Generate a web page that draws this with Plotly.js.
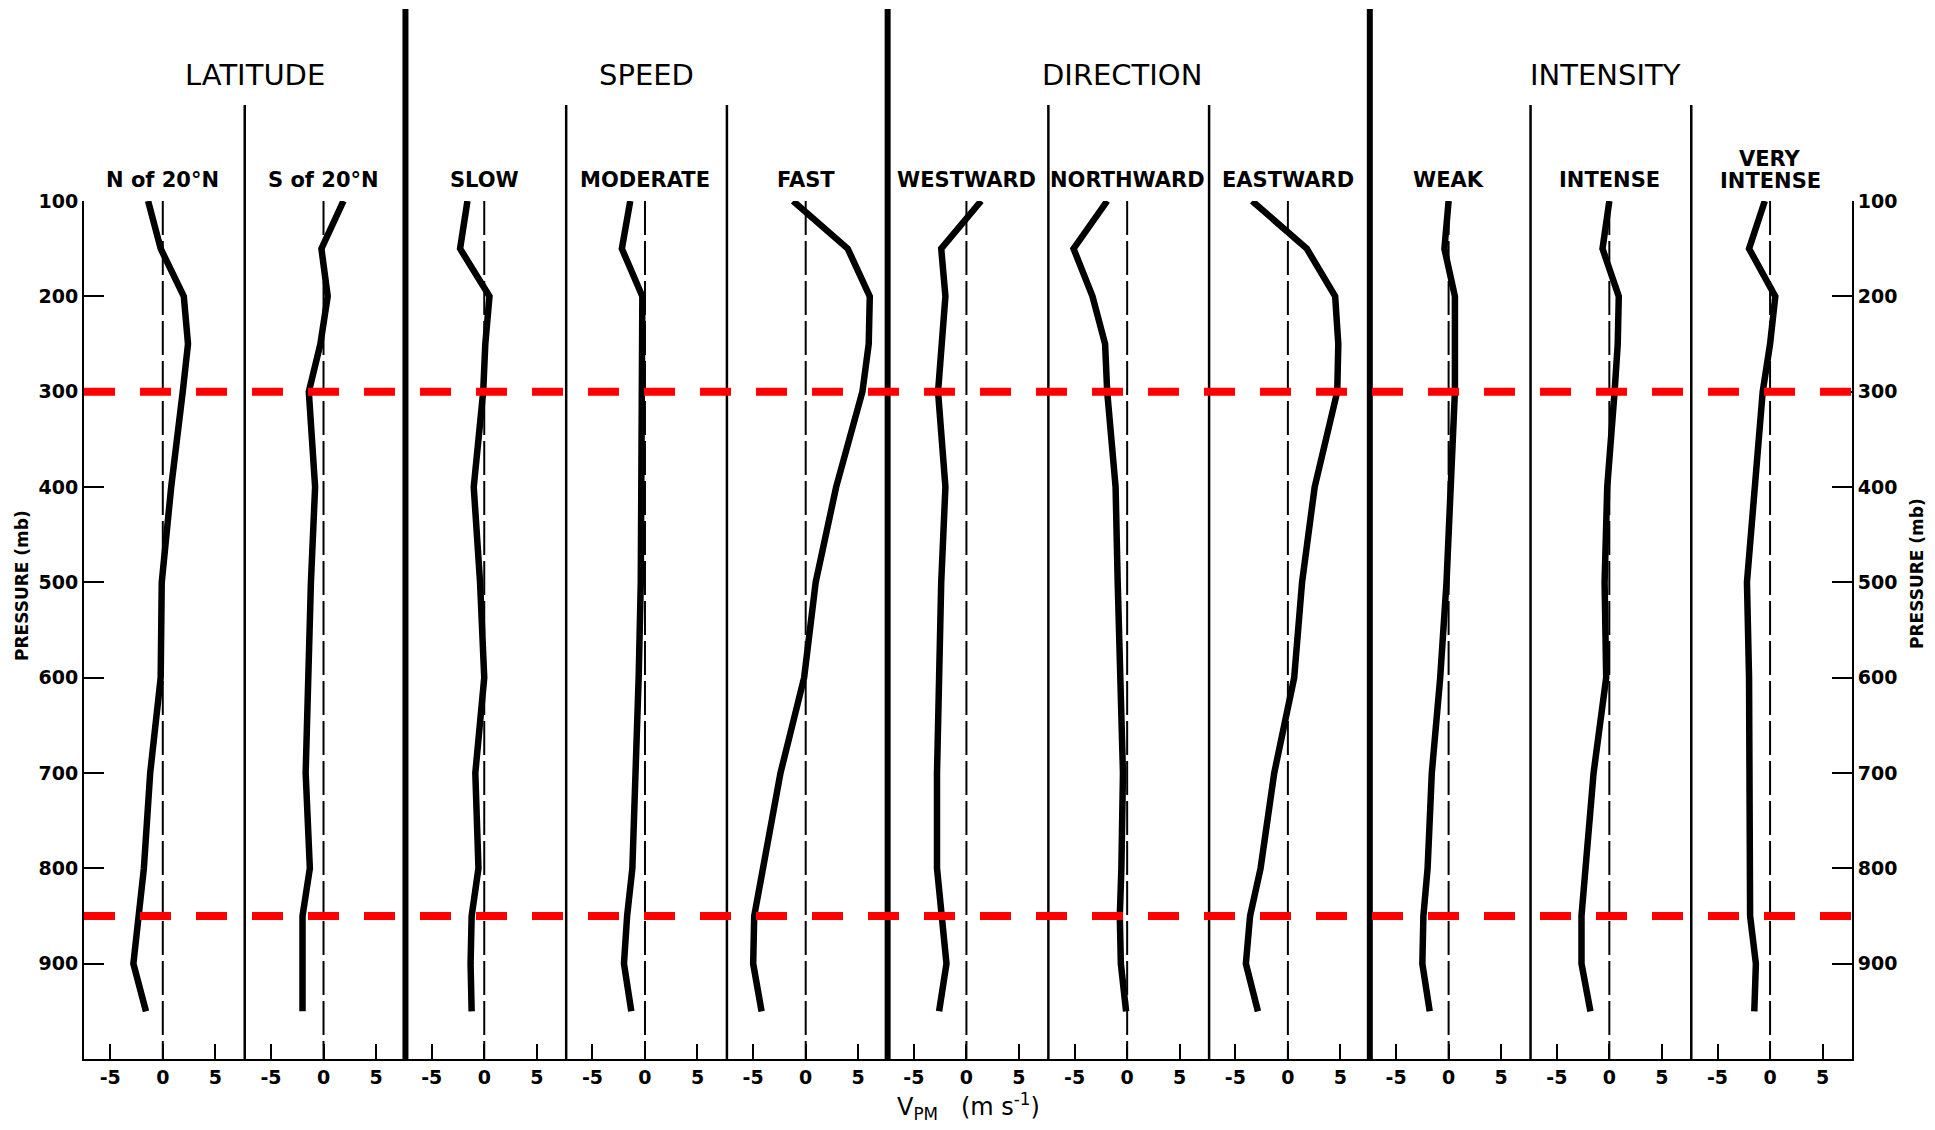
<!DOCTYPE html>
<html><head><meta charset="utf-8">
<script src="https://cdn.plot.ly/plotly-3.0.1.min.js"></script>
<style>html,body{margin:0;padding:0;background:#fff}</style>
</head><body>
<div id="chart" style="width:1935px;height:1130px"></div>
<script>
// ---- data ----
const pressure = [100,150,200,250,300,400,500,600,700,800,850,900,950];
const pressureTicks = [100,200,300,400,500,600,700,800,900];
const vTicks = [-5,0,5];

const latN        = [-1.4,-0.2, 2.0, 2.4, 1.9, 0.8,-0.1,-0.2,-1.2,-1.8,-2.3,-2.8,-1.6];
const latS        = [ 1.9,-0.2, 0.4,-0.3,-1.4,-0.8,-1.2,-1.4,-1.7,-1.3,-2.0,-2.0,-2.0];
const slow        = [-1.6,-2.3, 0.5, 0.1,-0.1,-1.0,-0.4, 0.0,-0.85,-0.55,-1.2,-1.3,-1.2];
const moderate    = [-1.4,-2.2,-0.25,-0.25,-0.25,-0.3,-0.4,-0.6,-0.9,-1.2,-1.7,-2.0,-1.3];
const fast        = [-1.2, 4.0, 6.1, 6.0, 5.4, 2.9, 0.95,-0.15,-2.4,-4.1,-4.9,-5.0,-4.2];
const westward    = [ 1.4,-2.4,-2.0,-2.4,-2.7,-2.0,-2.4,-2.6,-2.8,-2.8,-2.4,-1.9,-2.6];
const northward   = [-1.9,-5.1,-3.3,-2.1,-1.9,-1.1,-0.9,-0.6,-0.4,-0.55,-0.7,-0.6,-0.1];
const eastward    = [-3.4, 1.8, 4.5, 4.8, 4.7, 2.55, 1.35, 0.6,-1.3,-2.6,-3.6,-4.0,-2.85];
const weak        = [ 0.0,-0.4, 0.6, 0.6, 0.6, 0.2,-0.2,-0.8,-1.6,-2.0,-2.4,-2.5,-1.8];
const intense     = [ 0.0,-0.65,0.9, 0.8, 0.5,-0.2,-0.45,-0.3,-1.5,-2.2,-2.65,-2.65,-1.8];
const veryIntense = [-0.5,-2.0, 0.5, 0.0,-0.7,-1.5,-2.2,-2.0,-2.0,-1.9,-1.9,-1.35,-1.5];

const panelLabels = ["N of 20°N","S of 20°N","SLOW","MODERATE","FAST","WESTWARD","NORTHWARD","EASTWARD","WEAK","INTENSE","VERY|INTENSE"];
const panelSeries = [latN,latS,slow,moderate,fast,westward,northward,eastward,weak,intense,veryIntense];
const groupLabels = ["LATITUDE","SPEED","DIRECTION","INTENSITY"];
const refLevels = [300,850];

// ---- layout config ----
const thickAfter = [2, 5, 8];               // panel boundaries drawn heavy
const groupTitlePix = [255, 646, 1122, 1605]; // title centres (px)

const N = panelSeries.length;
const W = 1935, H = 1130;
const M = {l:84, r:83, t:201, b:71};
const plotH = H - M.t - M.b;
const py = yPix => (H - M.b - yPix) / plotH;       // pixel row -> paper y
const px = xPix => (xPix - M.l) / (W - M.l - M.r); // pixel col -> paper x
const FONT = "DejaVu Sans";

const traces = [];
const layout = {
  width: W, height: H, margin: M,
  paper_bgcolor: "#fff", plot_bgcolor: "#fff",
  showlegend: false, hovermode: false,
  font: {family: FONT, color: "#000"},
  shapes: [], annotations: []
};

function label(ax, y, text) {
  layout.annotations.push({
    xref: ax, yref: "paper", x: 0, y: py(y), text: text,
    showarrow: false, xanchor: "center", yanchor: "middle",
    font: {family: FONT, size: 21, color: "#000", weight: "bold"}
  });
}

for (let i = 0; i < N; i++) {
  const ax = i === 0 ? "x" : "x" + (i + 1);
  const axKey = i === 0 ? "xaxis" : "xaxis" + (i + 1);
  layout[axKey] = {
    domain: [i / N, (i + 1) / N], range: [-7.5, 7.8], anchor: "y",
    showline: true, linecolor: "#000", linewidth: 2,
    ticks: "inside", ticklen: 15, tickwidth: 2, tickcolor: "#000",
    tickvals: vTicks, ticktext: vTicks.map(v => v < 0 ? "-" + Math.abs(v) : String(v)),
    tickfont: {family: FONT, size: 19, color: "#000", weight: "bold"},
    showgrid: false, zeroline: false, fixedrange: true
  };
  traces.push({
    x: panelSeries[i], y: pressure, xaxis: ax, yaxis: "y",
    type: "scatter", mode: "lines",
    line: {color: "#000", width: 6.5}, hoverinfo: "skip"
  });
  // dashed zero line
  layout.shapes.push({
    type: "line", xref: ax, yref: "y", x0: 0, x1: 0, y0: 100, y1: 1000,
    line: {color: "#000", width: 2, dash: "34px,6px"}, layer: "below"
  });
  const parts = panelLabels[i].split("|");
  if (parts.length === 1) label(ax, 180, parts[0]);
  else { label(ax, 159, parts[0]); label(ax, 181, parts[1]); }
}

// dividers between panels
for (let i = 1; i < N; i++) {
  const isThick = thickAfter.includes(i);
  layout.shapes.push({
    type: "line", xref: "paper", yref: "paper", x0: i / N, x1: i / N,
    y0: 0, y1: py(isThick ? 9 : 105),
    line: {color: "#000", width: isThick ? 6 : 2.5}, layer: "above"
  });
}

// red reference levels
refLevels.forEach(p => layout.shapes.push({
  type: "line", xref: "paper", yref: "y", x0: 0, x1: 1, y0: p, y1: p,
  line: {color: "#ff0000", width: 8, dash: "31px,25px"}, layer: "above"
}));

// group titles
groupLabels.forEach((g, k) => {
  layout.annotations.push({
    xref: "paper", yref: "paper", x: px(groupTitlePix[k]), y: py(75), text: g,
    showarrow: false, xanchor: "center", yanchor: "middle",
    font: {family: FONT, size: 29, color: "#000"}
  });
});

// y axes
const yBase = {
  range: [1000, 100], domain: [0, 1],
  showline: true, linecolor: "#000", linewidth: 2,
  ticks: "inside", ticklen: 20, tickwidth: 2, tickcolor: "#000",
  tickvals: pressureTicks,
  tickfont: {family: FONT, size: 19, color: "#000", weight: "bold"},
  showgrid: false, zeroline: false, fixedrange: true
};
layout.yaxis = Object.assign({}, yBase, {anchor: "x", side: "left"});
layout.yaxis2 = Object.assign({}, yBase, {anchor: "x" + N, side: "right", overlaying: "y"});
traces.push({x: [null], y: [null], xaxis: "x" + N, yaxis: "y2", type: "scatter",
             mode: "lines", hoverinfo: "skip", showlegend: false});

// axis titles
const ytitle = {textangle: -90, showarrow: false, xanchor: "center", yanchor: "middle",
  xref: "paper", yref: "paper", text: "PRESSURE (mb)",
  font: {family: FONT, size: 17, color: "#000", weight: "bold"}};
layout.annotations.push(Object.assign({}, ytitle, {x: px(22), y: py(586)}));
layout.annotations.push(Object.assign({}, ytitle, {x: px(1917), y: py(574)}));
layout.annotations.push({
  xref: "paper", yref: "paper", x: 0.5, y: py(1106),
  text: "V<sub>PM</sub>\u00a0\u00a0\u00a0(m s<sup>-1</sup>)",
  showarrow: false, xanchor: "center", yanchor: "middle",
  font: {family: FONT, size: 24, color: "#000"}
});

Plotly.newPlot("chart", traces, layout, {staticPlot: true, displayModeBar: false});
</script>
</body></html>
